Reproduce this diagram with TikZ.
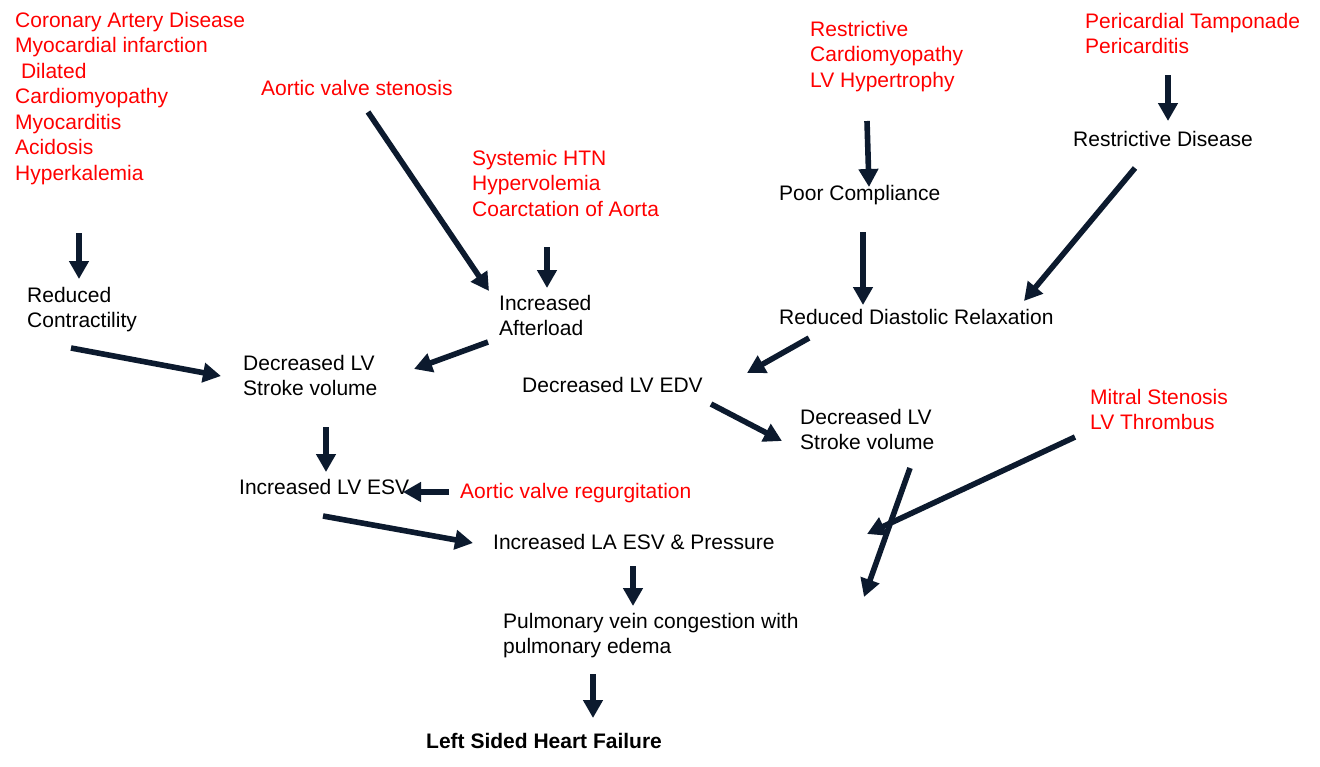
\documentclass[tikz,border=0pt]{standalone}
\usepackage{fontspec}
\setmainfont{Liberation Sans}
\usetikzlibrary{arrows.meta}
\definecolor{arrowcol}{HTML}{0C1A2E}
\definecolor{redtxt}{HTML}{FF0000}
\begin{document}
\begin{tikzpicture}[x=1pt,y=-1pt,
  txt/.style={anchor=north west,inner sep=0pt,align=left,font=\fontsize{21}{25.5}\selectfont,text=black},
  redt/.style={txt,text=redtxt},
  arr/.style={draw=arrowcol,line width=5.6pt,-{Triangle[width=19pt,length=18pt]}}]
\useasboundingbox (0,0) rectangle (1320,766);
\fill[white] (0,0) rectangle (1320,766);
% texts
\node[redt] (cad) at (15,12) {Coronary Artery Disease\\Myocardial infarction\\\hspace*{0.28em}Dilated\\Cardiomyopathy\\Myocarditis\\Acidosis\\Hyperkalemia};
\node[redt] (avs) at (261,80) {Aortic valve stenosis};
\node[redt] (htn) at (472,150) {Systemic HTN\\Hypervolemia\\Coarctation of Aorta};
\node[redt] (rcm) at (810,21) {Restrictive\\Cardiomyopathy\\LV Hypertrophy};
\node[redt] (peri) at (1085,13) {Pericardial Tamponade\\Pericarditis};
\node[txt] (rd) at (1073,131) {Restrictive Disease};
\node[txt] (pc) at (779,185) {Poor Compliance};
\node[txt] (rdr) at (779,309) {Reduced Diastolic Relaxation};
\node[txt] (rc) at (27,287) {Reduced\\Contractility};
\node[txt] (ia) at (499,295) {Increased\\Afterload};
\node[txt] (dsv) at (243,355) {Decreased LV\\Stroke volume};
\node[txt] (edv) at (522,377) {Decreased LV EDV};
\node[txt] (dsv2) at (800,409) {Decreased LV\\Stroke volume};
\node[redt] (ms) at (1090,389) {Mitral Stenosis\\LV Thrombus};
\node[txt] (esv) at (239,479) {Increased LV ESV};
\node[redt] (avr) at (460,483) {Aortic valve regurgitation};
\node[txt] (la) at (493,534) {Increased LA ESV \& Pressure};
\node[txt] (pv) at (503,613) {Pulmonary vein congestion with\\pulmonary edema};
\node[txt,font=\fontsize{21}{25.5}\selectfont\bfseries] (lshf) at (426,733) {Left Sided Heart Failure};
% arrow end points
\coordinate (a1s) at (79,233);   \coordinate (a1e) at (79,279);
\coordinate (a2s) at (368,112);  \coordinate (a2e) at (489,291);
\coordinate (a3s) at (547,247);  \coordinate (a3e) at (547,288);
\coordinate (a4s) at (867,121);  \coordinate (a4e) at (869,187);
\coordinate (a5s) at (1168,75);  \coordinate (a5e) at (1168,121);
\coordinate (a6s) at (71,348);   \coordinate (a6e) at (221,376);
\coordinate (a7s) at (488,342);  \coordinate (a7e) at (414,369);
\coordinate (a8s) at (863,232);  \coordinate (a8e) at (863,305);
\coordinate (a9s) at (1135,168); \coordinate (a9e) at (1024,301);
\coordinate (a10s) at (809,338); \coordinate (a10e) at (747,373);
\coordinate (a11s) at (711,404); \coordinate (a11e) at (782,441);
\coordinate (a12s) at (326,427); \coordinate (a12e) at (326,472);
\coordinate (a13s) at (449,492); \coordinate (a13e) at (403,492);
\coordinate (a14s) at (323,516); \coordinate (a14e) at (473,543);
\coordinate (a15s) at (633,566); \coordinate (a15e) at (633,606);
\coordinate (a16s) at (910,468); \coordinate (a16e) at (864,597);
\coordinate (a17s) at (1075,437); \coordinate (a17e) at (867,534);
\coordinate (a18s) at (593,674); \coordinate (a18e) at (593,718);
\foreach \i in {1,...,18} {\draw[arr] (a\i s) -- (a\i e);}
\end{tikzpicture}
\end{document}
